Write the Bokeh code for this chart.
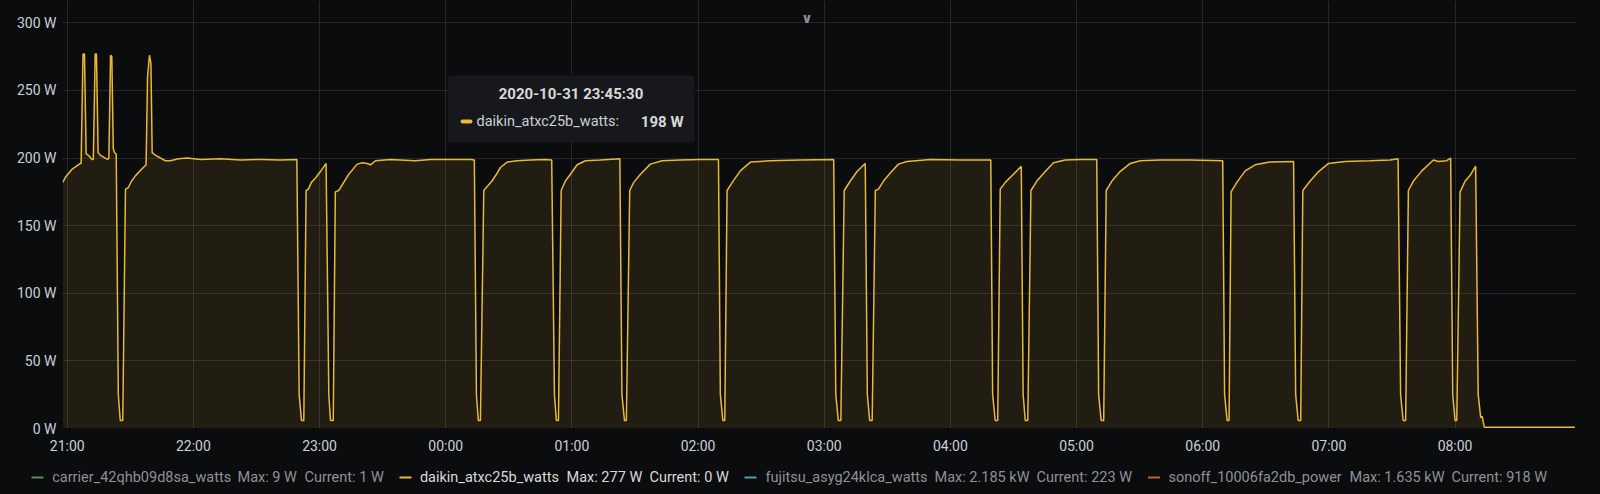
import numpy as np
from bokeh.plotting import figure
from bokeh.models import (Range1d, FixedTicker, DatetimeTickFormatter, PrintfTickFormatter,
                          Label, BoxAnnotation)
from bokeh.embed import file_html
from bokeh.resources import INLINE

# ---------------- data (daikin_atxc25b_watts), minutes after 2020-10-31 21:00 ----------------
minutes = [
    -2.1, -0.8, 0.8, 2.5, 4.4, 6.3, 6.6, 7.5, 8.2, 9.0, 10.1, 11.8, 12.4, 13.3, 13.9, 14.7, 15.8,
    19.2, 19.8, 20.6, 21.2, 21.9, 22.5, 23.3, 24.3, 25.2, 26.4, 27.7, 29.0, 30.6, 32.5, 34.9,
    37.5, 38.2, 39.1, 39.8, 40.4, 42.0, 44.4, 46.7, 49.1, 52.9, 57.1, 63.4, 72.9, 82.4, 91.9,
    101.4, 109.2,
    110.3, 111.4, 112.5, 113.6, 114.7, 116.1, 118.0, 120.4, 123.1,
    124.4, 125.2, 126.5, 127.5, 129.1, 131.5, 133.9, 137.9, 140.4, 142.6, 144.2, 146.6, 153.7,
    165.5, 172.7, 182.2, 191.7, 193.6,
    194.6, 195.5, 196.5, 198.1, 199.7, 202.0, 204.1, 206.0, 209.2, 213.9, 220.3, 227.4, 230.4,
    231.7, 232.6, 233.6, 234.9, 236.9, 239.3, 242.5, 246.4, 253.5, 262.8,
    263.8, 265.0, 265.9, 267.5, 269.4, 272.6, 277.3, 282.9, 291.6, 301.1, 309.7,
    310.6, 311.8, 312.7, 313.8, 316.9, 320.1, 324.9, 334.4, 348.6, 364.5,
    365.5, 366.7, 367.9, 369.5, 372.4, 375.6, 379.5,
    380.5, 381.6, 382.8, 384.3, 385.8, 388.2, 391.4, 395.3, 399.3, 410.4, 424.7, 439.2,
    440.1, 441.3, 442.5, 443.7, 446.1, 450.0, 453.7,
    454.6, 455.6, 456.8, 458.3, 461.1, 465.1, 469.0, 474.6, 481.7, 489.6,
    490.5, 491.7, 492.9, 494.1, 496.8, 500.7, 505.5, 510.3, 519.8, 534.0, 549.5,
    550.4, 551.6, 552.5, 553.5, 556.2, 560.2, 564.9, 572.0, 583.2,
    584.2, 585.4, 586.6, 587.6, 591.1, 595.1, 599.8, 607.7, 619.6, 629.1, 632.9,
    634.1, 635.3, 636.5, 637.8, 640.2, 644.2, 649.7, 652.1, 656.0, 657.9,
    658.9, 660.0, 660.8, 662.4, 664.8, 667.1, 669.8,
    671.0, 672.2, 672.9, 673.9, 695.6, 717.0,
]
watts = [
    182, 186, 189, 192, 194, 196, 196, 277, 277, 203, 202, 199, 199, 277, 277, 204, 202,
    199, 200, 276, 275, 207, 204, 203, 25, 6, 6, 177, 178, 183, 187, 191,
    195, 260, 276, 270, 204, 202, 200, 198, 198, 199.5, 200, 199, 199.5, 198.5, 199,
    198.5, 199,
    25, 6, 6, 176, 177, 182, 185, 190, 196,
    25, 6, 6, 175, 176, 182, 188, 195.5, 196.5, 196, 195, 198, 199,
    198, 199, 199, 199, 198.5,
    25, 6, 6, 176, 179, 183, 188, 193, 197, 198, 198.5, 199, 198.5,
    25, 6, 6, 176, 183, 188, 195, 198, 198.5, 199.5,
    25, 6, 6, 176, 182, 188, 195.5, 198, 198.5, 199, 199,
    25, 6, 6, 176, 183.5, 190.5, 197, 198, 198.5, 199,
    25, 6, 6, 176, 183, 190, 196,
    25, 6, 6, 176, 177, 183, 189, 195.5, 197.5, 199, 198.5, 198.5,
    25, 6, 6, 177, 182, 188, 194,
    25, 6, 6, 176, 183, 190, 196.5, 198.5, 199, 199,
    25, 6, 6, 176, 183, 190, 196, 198, 198.5, 198.5, 198,
    25, 6, 6, 175, 182, 190.5, 195, 197, 197.5,
    25, 6, 6, 176, 183, 190, 196, 197.5, 198, 198.5, 199.5,
    25, 6, 6, 176, 183, 190.5, 198.5, 197.5, 198, 200,
    25, 6, 6, 175, 183, 187, 194,
    25, 8, 9, 1, 1, 1,
]

x_tick_labels = ["21:00", "22:00", "23:00", "00:00", "01:00", "02:00",
                 "03:00", "04:00", "05:00", "06:00", "07:00", "08:00"]
y_tick_values = [0, 50, 100, 150, 200, 250, 300]
y_tick_labels = ["0 W", "50 W", "100 W", "150 W", "200 W", "250 W", "300 W"]

legend_names = ["carrier_42qhb09d8sa_watts", "daikin_atxc25b_watts",
                "fujitsu_asyg24klca_watts", "sonoff_10006fa2db_power"]
legend_max = ["Max: 9 W", "Max: 277 W", "Max: 2.185 kW", "Max: 1.635 kW"]
legend_current = ["Current: 1 W", "Current: 0 W", "Current: 223 W", "Current: 918 W"]
legend_colors = ["#7EB26D", "#EAB839", "#6ED0E0", "#EF843C"]
legend_shown = [False, True, False, False]

tooltip_time = "2020-10-31 23:45:30"
tooltip_series = "daikin_atxc25b_watts:"
tooltip_value = "198 W"

# ---------------- styles ----------------
BG = "#0b0c0e"
TEXT = "#c7d0d9"
BRIGHT = "#d8d9da"
DIM = "#8e9196"
FONT = "Roboto"
LINE = "#EAB839"

base = np.datetime64("2020-10-31T21:00:00", "ms")
base_ms = int(base.astype("int64"))
xs = base + (np.array(minutes) * 60000).astype("timedelta64[ms]")
x_ticks = [base_ms + h * 3600000 for h in range(len(x_tick_labels))]

# frame spans canvas y 0..428; 300 W grid sits 22 px below the top edge
Y_END = 300 * 428 / (428 - 22.3)

p = figure(width=1600, height=456, x_axis_type="datetime", output_backend="svg",
           toolbar_location=None, tools="",
           x_range=Range1d(base_ms - 2.25 * 60000, base_ms + 717.75 * 60000),
           y_range=Range1d(0, Y_END),
           min_border_left=62, min_border_right=24, min_border_top=0, min_border_bottom=28)
p.background_fill_color = BG
p.border_fill_color = BG
p.outline_line_color = None

p.varea(x=xs, y1=0, y2=watts, fill_color=LINE, fill_alpha=0.1)
p.line(x=xs, y=watts, line_color=LINE, line_width=1.5)

# axes
p.xaxis.ticker = FixedTicker(ticks=x_ticks)
p.xaxis.formatter = DatetimeTickFormatter(hours="%H:%M", hourmin="%H:%M", days="%H:%M")
p.xaxis.major_label_overrides = {t: lab for t, lab in zip(x_ticks, x_tick_labels)}
p.yaxis.ticker = FixedTicker(ticks=y_tick_values)
p.yaxis.formatter = PrintfTickFormatter(format="%d W")
p.yaxis.major_label_overrides = {v: lab for v, lab in zip(y_tick_values, y_tick_labels)}
for ax in (p.xaxis[0], p.yaxis[0]):
    ax.axis_line_color = None
    ax.major_tick_line_color = None
    ax.minor_tick_line_color = None
    ax.major_tick_out = 0
    ax.major_tick_in = 0
    ax.major_label_text_color = TEXT
    ax.major_label_text_font = FONT
    ax.major_label_text_font_size = "14px"
p.yaxis.major_label_standoff = 6
p.xaxis.major_label_standoff = 9
p.xgrid.grid_line_color = "#ffffff"
p.xgrid.grid_line_alpha = 0.11
p.ygrid.grid_line_color = "#ffffff"
p.ygrid.grid_line_alpha = 0.11


def canvas_box(fig, left, right, top, bottom, color, alpha=1.0, radius=0):
    fig.add_layout(BoxAnnotation(left=left, right=right, top=top, bottom=bottom,
                                 left_units="canvas", right_units="canvas", top_units="canvas",
                                 bottom_units="canvas", fill_color=color, fill_alpha=alpha,
                                 line_color=None, border_radius=radius))


def canvas_text(fig, x, y, text, color, size, bold=False, align="left", font=FONT):
    fig.add_layout(Label(x=x, y=y, x_units="canvas", y_units="canvas", text=text,
                         text_color=color, text_font=font, text_font_size=size,
                         text_font_style="bold" if bold else "normal",
                         text_align=align, text_baseline="middle"))


# ---------------- tooltip ----------------
canvas_box(p, 447, 694, 75, 142, "#17181b", radius=4)
canvas_text(p, 570.5, 93, tooltip_time, BRIGHT, "15px", bold=True, align="center")
canvas_box(p, 460, 472, 119, 123, LINE, radius=2)
canvas_text(p, 476, 121, tooltip_series, TEXT, "14.5px")
canvas_text(p, 683, 121, tooltip_value, BRIGHT, "15px", bold=True, align="right")

# small collapse chevron at top
canvas_text(p, 806.5, 17, "\u2228", "#8e9196", "14px", bold=True, align="center", font="DejaVu Sans")

# ---------------- legend strip (bottom) ----------------
leg = figure(width=1600, height=38, output_backend="svg", toolbar_location=None, tools="",
             x_range=Range1d(0, 1600), y_range=Range1d(0, 38),
             x_axis_location=None, y_axis_location=None,
             min_border_left=0, min_border_right=0, min_border_top=0, min_border_bottom=0)
leg.background_fill_color = BG
leg.border_fill_color = BG
leg.outline_line_color = None
leg.grid.visible = False

dash_x = [31, 399, 744, 1147.5]
name_x = [51.7, 419.4, 765, 1168]
max_x = [237, 566, 934, 1349]
cur_x = [304, 649, 1036, 1451]
LEG_Y = 21
for i in range(4):
    col = BRIGHT if legend_shown[i] else DIM
    canvas_box(leg, dash_x[i], dash_x[i] + 12, LEG_Y - 1, LEG_Y + 1, legend_colors[i],
               alpha=1.0 if legend_shown[i] else 0.75)
    canvas_text(leg, name_x[i], LEG_Y, legend_names[i], col, "14.5px")
    canvas_text(leg, max_x[i], LEG_Y, legend_max[i], col, "14.5px")
    canvas_text(leg, cur_x[i], LEG_Y, legend_current[i], col, "14.5px")

html = file_html([p, leg], INLINE)
style = "<style>html, body { background-color: #0b0c0e !important; margin: 0; }</style>"
html = html.replace("</head>", style + "\n</head>", 1)
open("out.html", "w").write(html)
